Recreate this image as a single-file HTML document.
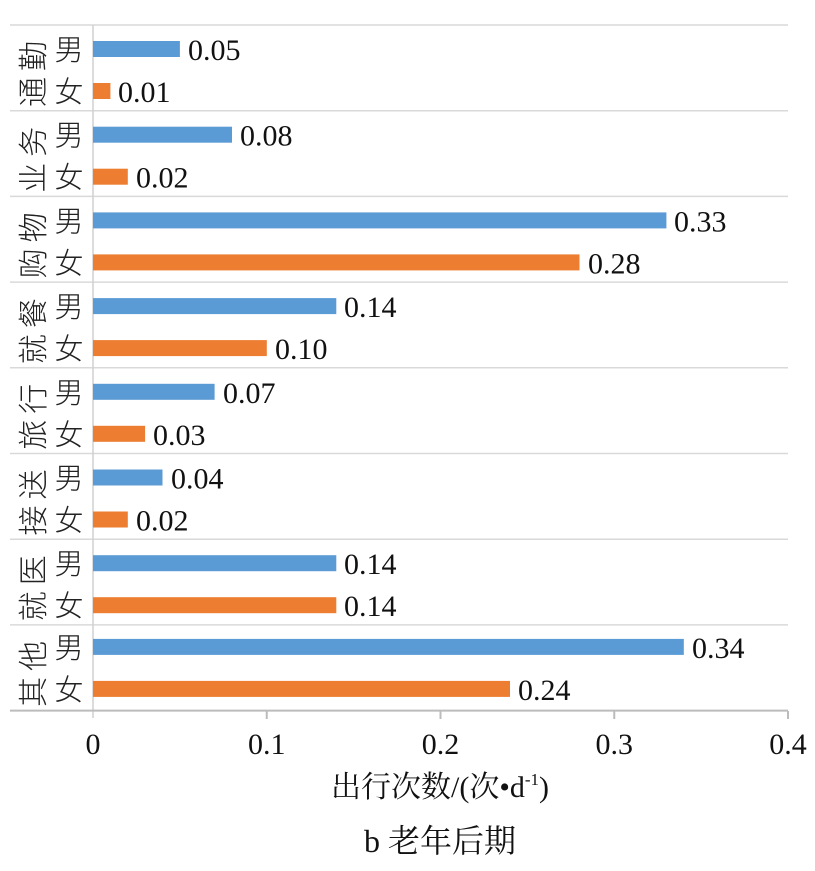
<!DOCTYPE html>
<html><head><meta charset="utf-8"><style>body{margin:0;background:#fff}
.v{font-size:30px;fill:#111}
.g{font-size:29px;fill:#222;font-family:"Noto Sans CJK SC",sans-serif;font-weight:300;text-anchor:middle}
.c{font-size:30px;fill:#222;font-family:"Noto Sans CJK SC",sans-serif;font-weight:300;text-anchor:middle;letter-spacing:6px}
.t{font-size:30px;fill:#111;text-anchor:middle}
</style></head><body>
<svg width="815" height="866" xmlns="http://www.w3.org/2000/svg" font-family="Liberation Serif, Noto Serif CJK SC, serif">
<rect width="815" height="866" fill="#fff"/>
<g stroke="#d9d9d9" stroke-width="1.5">
<line x1="10" x2="788" y1="25" y2="25"/><line x1="10" x2="788" y1="110.7" y2="110.7"/><line x1="10" x2="788" y1="196.4" y2="196.4"/><line x1="10" x2="788" y1="282.1" y2="282.1"/><line x1="10" x2="788" y1="367.8" y2="367.8"/><line x1="10" x2="788" y1="453.5" y2="453.5"/><line x1="10" x2="788" y1="539.2" y2="539.2"/><line x1="10" x2="788" y1="624.9" y2="624.9"/>
<line x1="93" x2="93" y1="25" y2="718" stroke="#d0d0d0"/>
</g>
<g stroke="#bcbcbc" stroke-width="2">
<line x1="10" x2="788" y1="710.6" y2="710.6"/>
<line x1="266.75" x2="266.75" y1="711" y2="719"/><line x1="440.5" x2="440.5" y1="711" y2="719"/><line x1="614.25" x2="614.25" y1="711" y2="719"/><line x1="788" x2="788" y1="711" y2="719"/>
</g>

<g transform="translate(0,25)">
<rect x="93" y="16" width="86.9" height="16" fill="#5b9bd5"/><text class="v" x="188" y="35">0.05</text>
<rect x="93" y="58" width="17.4" height="16" fill="#ed7d31"/><text class="v" x="118" y="77">0.01</text>
<text class="g" x="69" y="35">男</text><text class="g" x="69" y="77">女</text>
<text class="c" transform="translate(34,46) rotate(-90)" dy="10">通勤</text></g>

<g transform="translate(0,110.7)">
<rect x="93" y="16" width="139" height="16" fill="#5b9bd5"/><text class="v" x="240" y="35">0.08</text>
<rect x="93" y="58" width="34.8" height="16" fill="#ed7d31"/><text class="v" x="136" y="77">0.02</text>
<text class="g" x="69" y="35">男</text><text class="g" x="69" y="77">女</text>
<text class="c" transform="translate(34,46) rotate(-90)" dy="10">业务</text></g>

<g transform="translate(0,196.4)">
<rect x="93" y="16" width="573.4" height="16" fill="#5b9bd5"/><text class="v" x="674" y="35">0.33</text>
<rect x="93" y="58" width="486.5" height="16" fill="#ed7d31"/><text class="v" x="588" y="77">0.28</text>
<text class="g" x="69" y="35">男</text><text class="g" x="69" y="77">女</text>
<text class="c" transform="translate(34,46) rotate(-90)" dy="10">购物</text></g>

<g transform="translate(0,282.1)">
<rect x="93" y="16" width="243.3" height="16" fill="#5b9bd5"/><text class="v" x="344" y="35">0.14</text>
<rect x="93" y="58" width="173.8" height="16" fill="#ed7d31"/><text class="v" x="275" y="77">0.10</text>
<text class="g" x="69" y="35">男</text><text class="g" x="69" y="77">女</text>
<text class="c" transform="translate(34,46) rotate(-90)" dy="10">就餐</text></g>

<g transform="translate(0,367.8)">
<rect x="93" y="16" width="121.6" height="16" fill="#5b9bd5"/><text class="v" x="223" y="35">0.07</text>
<rect x="93" y="58" width="52.1" height="16" fill="#ed7d31"/><text class="v" x="153" y="77">0.03</text>
<text class="g" x="69" y="35">男</text><text class="g" x="69" y="77">女</text>
<text class="c" transform="translate(34,46) rotate(-90)" dy="10">旅行</text></g>

<g transform="translate(0,453.5)">
<rect x="93" y="16" width="69.5" height="16" fill="#5b9bd5"/><text class="v" x="171" y="35">0.04</text>
<rect x="93" y="58" width="34.8" height="16" fill="#ed7d31"/><text class="v" x="136" y="77">0.02</text>
<text class="g" x="69" y="35">男</text><text class="g" x="69" y="77">女</text>
<text class="c" transform="translate(34,46) rotate(-90)" dy="10">接送</text></g>

<g transform="translate(0,539.2)">
<rect x="93" y="16" width="243.3" height="16" fill="#5b9bd5"/><text class="v" x="344" y="35">0.14</text>
<rect x="93" y="58" width="243.3" height="16" fill="#ed7d31"/><text class="v" x="344" y="77">0.14</text>
<text class="g" x="69" y="35">男</text><text class="g" x="69" y="77">女</text>
<text class="c" transform="translate(34,46) rotate(-90)" dy="10">就医</text></g>

<g transform="translate(0,624.9)">
<rect x="93" y="14" width="590.8" height="16" fill="#5b9bd5"/><text class="v" x="692" y="33">0.34</text>
<rect x="93" y="56" width="417" height="16" fill="#ed7d31"/><text class="v" x="518" y="75">0.24</text>
<text class="g" x="69" y="33">男</text><text class="g" x="69" y="75">女</text>
<text class="c" transform="translate(34,46) rotate(-90)" dy="10">其他</text></g>

<text class="t" x="93" y="754">0</text>
<text class="t" x="266.75" y="754">0.1</text>
<text class="t" x="440.5" y="754">0.2</text>
<text class="t" x="614.25" y="754">0.3</text>
<text class="t" x="788" y="754">0.4</text>
<text x="440" y="797" font-size="30" text-anchor="middle" fill="#111">出行次数/(次•d<tspan font-size="17" dy="-12">-1</tspan><tspan dy="12">)</tspan></text>
<text x="440" y="852" font-size="32" text-anchor="middle" fill="#111">b 老年后期</text>
</svg>
</body></html>
